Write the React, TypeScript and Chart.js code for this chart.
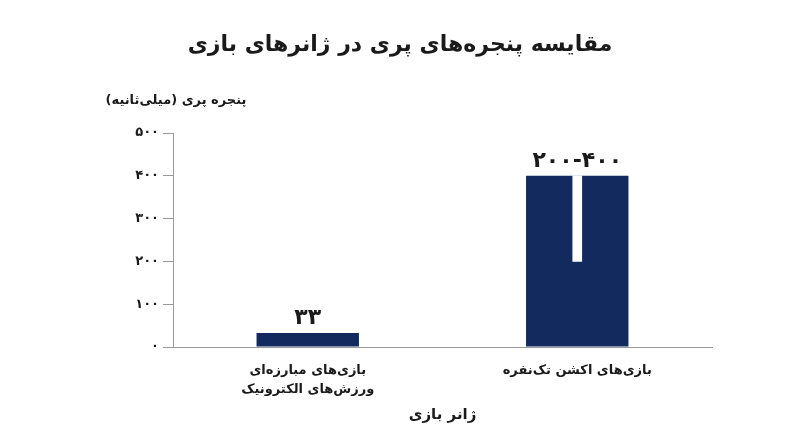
import React, { useEffect, useRef } from 'react';
import { Chart, registerables } from 'chart.js';

Chart.register(...registerables);

const categories = [['بازی‌های مبارزه‌ای', 'ورزش‌های الکترونیک'], 'بازی‌های اکشن تک‌نفره'];
const parryWindowMs = [33, 400];
const rangeGap = [null, [200, 400]];
const valueLabels = ['۳۳', '۲۰۰-۴۰۰'];
const yTickLabels = ['۰', '۱۰۰', '۲۰۰', '۳۰۰', '۴۰۰', '۵۰۰'];

const TITLE = 'مقایسه پنجره‌های پری در ژانرهای بازی';
const Y_TITLE = 'پنجره پری (میلی‌ثانیه)';
const X_TITLE = 'ژانر بازی';

const FONT = "'DejaVu Sans', sans-serif";
const NAVY = '#132a5e';
const INK = '#1a1a1a';

const textPlugin = {
  id: 'persianText',
  afterDraw(chart: any) {
    const { ctx, chartArea } = chart;
    ctx.save();
    ctx.fillStyle = INK;
    ctx.textBaseline = 'middle';
    ctx.direction = 'rtl';
    ctx.textAlign = 'center';

    ctx.font = `bold 22px ${FONT}`;
    ctx.fillText(TITLE, chart.width / 2, 45);

    ctx.font = `bold 13px ${FONT}`;
    ctx.fillText(Y_TITLE, 176, 101);

    ctx.font = `bold 15px ${FONT}`;
    ctx.fillText(X_TITLE, (chartArea.left + chartArea.right) / 2, 415);

    // value labels above the bars
    ctx.direction = 'ltr';
    ctx.font = `bold 22px ${FONT}`;
    ctx.textBaseline = 'bottom';
    const meta = chart.getDatasetMeta(0);
    meta.data.forEach((bar: any, i: number) => {
      ctx.fillText(valueLabels[i], bar.x, bar.y - 4);
    });
    ctx.restore();
  },
};

const App = () => {
  const chartRef = useRef<HTMLCanvasElement | null>(null);
  const chartInstance = useRef<any>(null);

  useEffect(() => {
    document.body.style.margin = '0';
    if (chartRef.current) {
      if (chartInstance.current) {
        chartInstance.current.destroy();
      }
      const ctx = chartRef.current.getContext('2d');
      chartInstance.current = new Chart(ctx as any, {
        type: 'bar',
        data: {
          labels: categories as any,
          datasets: [
            {
              label: 'parry',
              data: parryWindowMs,
              backgroundColor: NAVY,
              barPercentage: 0.38,
              categoryPercentage: 1,
              order: 2,
            },
            {
              label: 'gap',
              data: rangeGap as any,
              backgroundColor: '#ffffff',
              barThickness: 9,
              order: 1,
            },
          ],
        },
        options: {
          animation: false,
          responsive: true,
          maintainAspectRatio: false,
          layout: { padding: { top: 133, right: 88, left: 0, bottom: 0 } },
          plugins: {
            legend: { display: false },
            tooltip: { enabled: false },
          },
          scales: {
            x: {
              stacked: true,
              grid: { display: false },
              border: { display: true, color: '#9a9a9a', width: 1 },
              ticks: {
                color: INK,
                padding: 6,
                maxRotation: 0,
                font: { family: FONT, size: 13, weight: 'bold', lineHeight: 1.45 },
              },
              afterFit: (scale: any) => {
                scale.height = 100;
              },
            },
            y: {
              stacked: false,
              min: 0,
              max: 500,
              grid: { drawOnChartArea: false, color: '#9a9a9a', tickLength: 10 },
              border: { display: true, color: '#9a9a9a', width: 1 },
              ticks: {
                stepSize: 100,
                color: INK,
                padding: 4,
                font: { family: FONT, size: 13, weight: 'bold' },
                callback: (value: any) => yTickLabels[Math.round(Number(value) / 100)],
              },
              afterFit: (scale: any) => {
                scale.width = 173;
              },
            },
          },
        },
        plugins: [textPlugin],
      });
    }
    return () => {
      if (chartInstance.current) {
        chartInstance.current.destroy();
        chartInstance.current = null;
      }
    };
  }, []);

  return (
    <div style={{ position: 'fixed', left: 0, top: 0, width: 800, height: 447, background: '#fff' }}>
      <canvas ref={chartRef} />
    </div>
  );
};

export default App;
